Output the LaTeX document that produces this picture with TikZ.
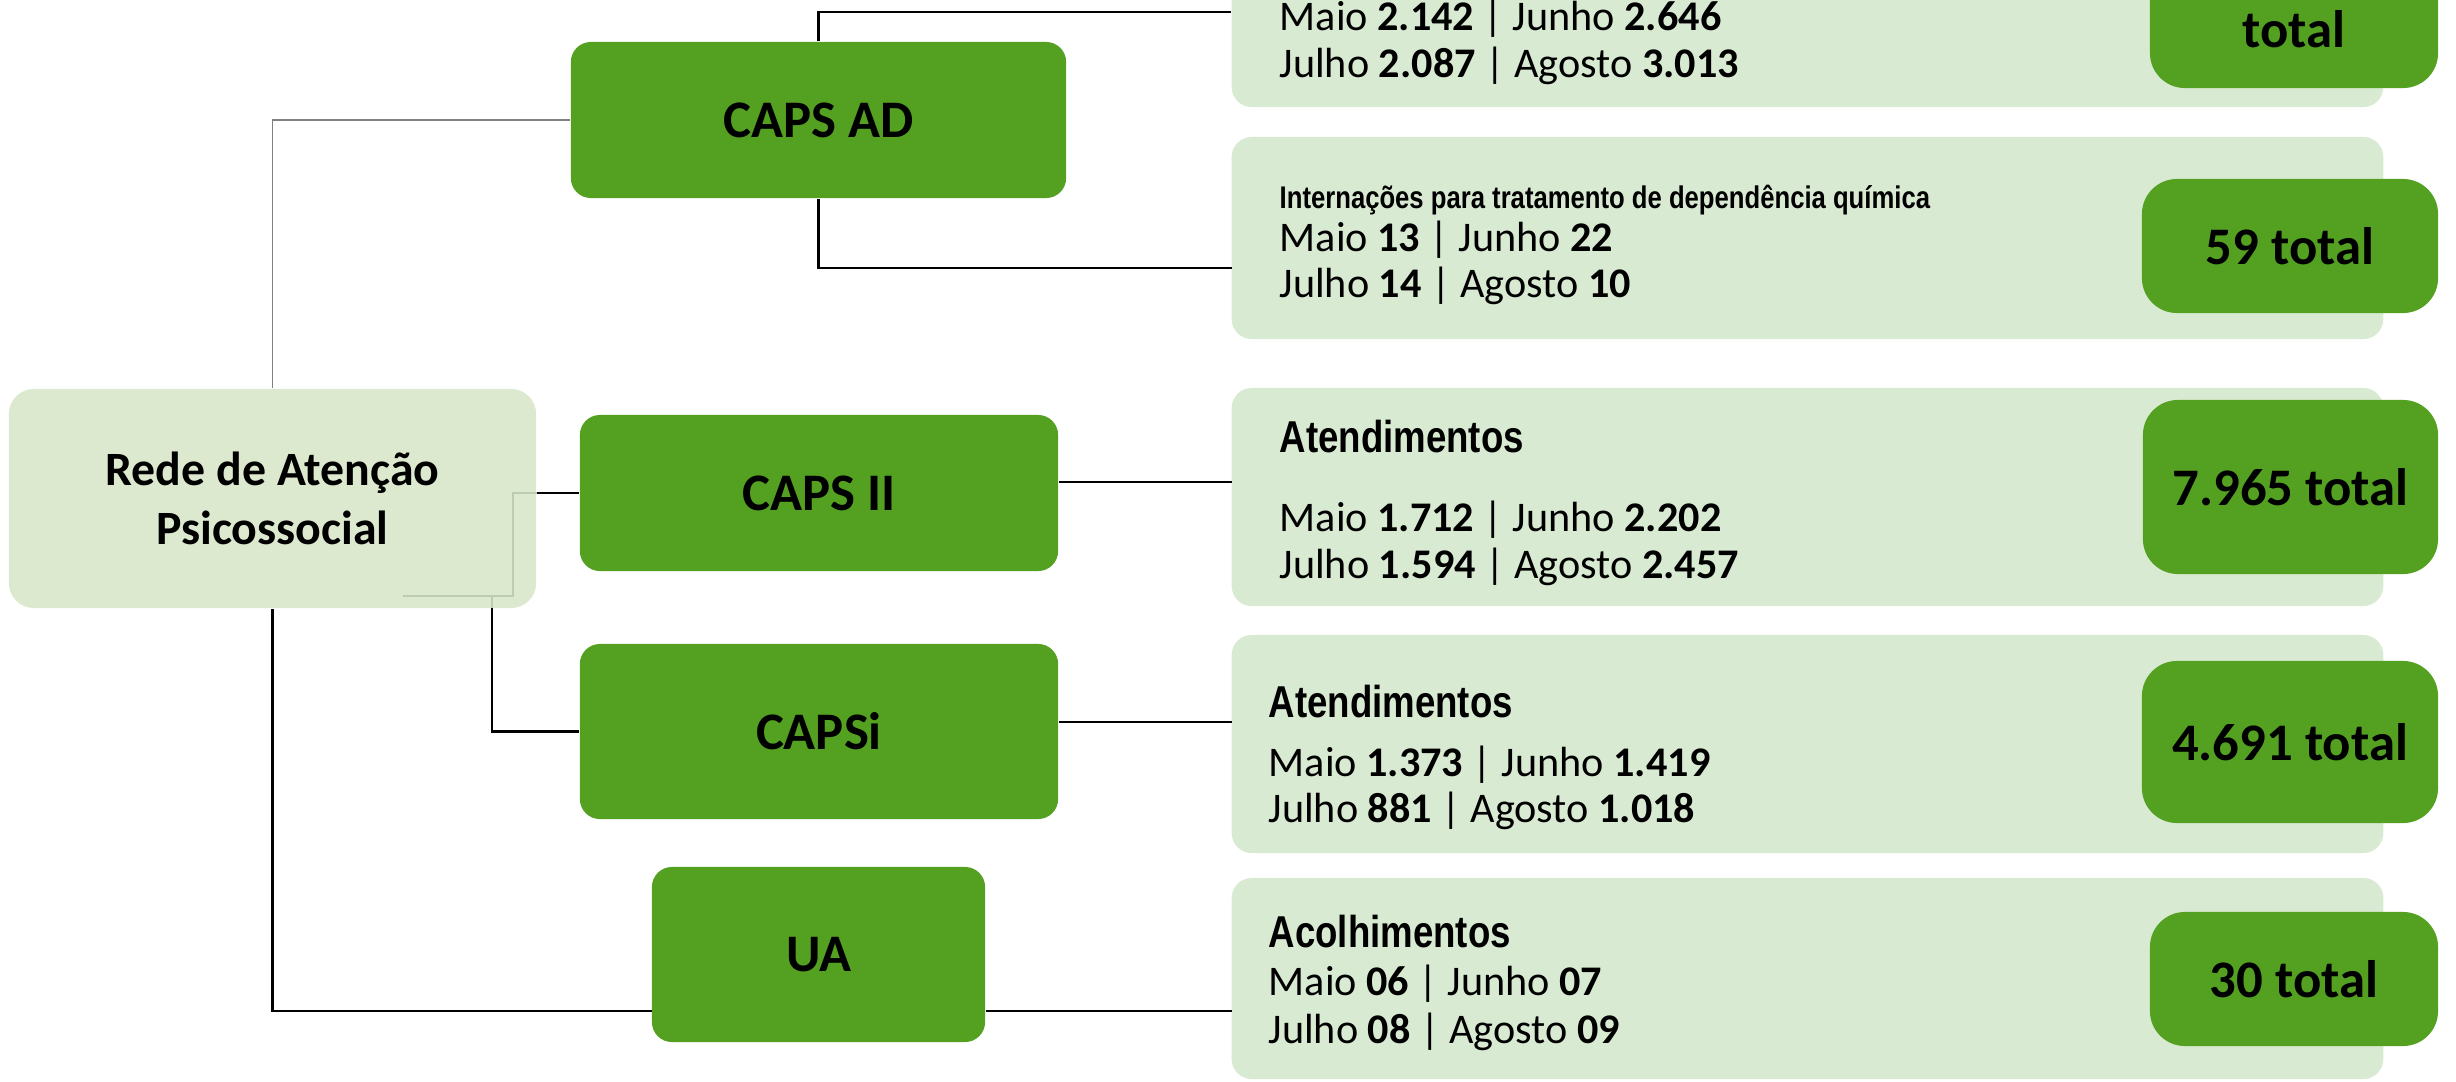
\documentclass[tikz,border=0pt]{standalone}
\usepackage{fontspec}
\setmainfont{Carlito}
\newfontfamily\narrowfont{Liberation Sans}[FakeStretch=0.82]
\begin{document}
\begin{tikzpicture}[x=0.01cm,y=-0.01cm,
  unitbox/.style={shape=rectangle,rounded corners=0.2cm,fill=raps_green,inner sep=0pt,font=\fontsize{15}{18}\selectfont\bfseries},
  databox/.style={shape=rectangle,rounded corners=0.2cm,fill=raps_pale,minimum width=11.51cm,inner sep=0pt},
  totalbox/.style={shape=rectangle,rounded corners=0.35cm,fill=raps_green,minimum width=2.96cm,inner sep=0pt,font=\fontsize{15}{18}\selectfont\bfseries},
  month/.style={anchor=base west,inner sep=0pt,font=\fontsize{12}{14}\selectfont},
  heading/.style={anchor=base west,inner sep=0pt,font=\fontsize{12.7}{15}\narrowfont\bfseries},
  link/.style={line width=0.6pt,color=black}]
\definecolor{raps_green}{RGB}{84,160,33}
\definecolor{raps_pale}{RGB}{217,234,211}
\definecolor{raps_rede}{RGB}{221,233,207}
\definecolor{raps_faint}{RGB}{188,204,178}
\clip (0,0) rectangle (2456,1081);

\node[shape=rectangle,rounded corners=0.25cm,fill=raps_rede,minimum width=5.27cm,minimum height=2.19cm,align=center,font=\fontsize{13.6}{16.8}\selectfont\bfseries] (rede) at (272.5,498.5) {Rede de Atenção\\Psicossocial};

\node[unitbox,minimum width=4.95cm,minimum height=1.56cm] (capsad) at (818.5,120) {CAPS AD};
\node[unitbox,minimum width=4.78cm,minimum height=1.56cm] (capsii) at (819,493) {CAPS II};
\node[unitbox,minimum width=4.78cm,minimum height=1.75cm] (capsi) at (819,731.5) {CAPSi};
\node[unitbox,minimum width=3.33cm,minimum height=1.75cm] (ua) at (818.5,954.5) {UA};

\node[databox,minimum height=1.90cm] (dados1) at (1807.5,12) {};
\node[databox,minimum height=2.02cm] (dados2) at (1807.5,238) {};
\node[databox,minimum height=2.18cm] (dados3) at (1807.5,497) {};
\node[databox,minimum height=2.18cm] (dados4) at (1807.5,744) {};
\node[databox,minimum height=2.01cm] (dados5) at (1807.5,978.5) {};

\coordinate (d2in) at (1232,268);
\coordinate (d3in) at (1232,482);
\coordinate (capsiin) at (492,608);
\coordinate (d4in) at (1232,722);
\coordinate (uain) at (652,1011);
\coordinate (d5in) at (1232,1011);

\draw[line width=0.5pt,color=gray] (rede.north) |- (capsad.west);
\draw[link] (capsad.north) |- (dados1.west);
\draw[link] (capsad.south) |- (d2in);
\draw[link] (rede.east |- capsii.west) -- (capsii.west);
\draw[link] (capsii.east |- d3in) -- (d3in);
\draw[line width=0.6pt,color=raps_faint] (rede.east |- 0,493) -- (513,493) -- (513,596) -- (403,596);
\draw[line width=0.6pt,color=raps_faint] (492,596) -- (capsiin);
\draw[link] (capsiin) |- (capsi.west);
\draw[link] (capsi.east |- d4in) -- (d4in);
\draw[link] (rede.south) |- (uain);
\draw[link] (ua.east |- d5in) -- (d5in);

\node[month] (maio1) at (1279,30) {Maio \textbf{2.142} | Junho \textbf{2.646}};
\node[month] (julho1) at (1279,77) {Julho \textbf{2.087} | Agosto \textbf{3.013}};

\node[anchor=base west,inner sep=0pt,font=\fontsize{8.9}{10}\narrowfont\bfseries] (intern2) at (1279,208) {Internações para tratamento de dependência química};
\node[month] (maio2) at (1279,251) {Maio \textbf{13} | Junho \textbf{22}};
\node[month] (julho2) at (1279,297) {Julho \textbf{14} | Agosto \textbf{10}};

\node[heading] (atend3) at (1279,452) {Atendimentos};
\node[month] (maio3) at (1279,531) {Maio \textbf{1.712} | Junho \textbf{2.202}};
\node[month] (julho3) at (1279,578) {Julho \textbf{1.594} | Agosto \textbf{2.457}};

\node[heading] (atend4) at (1268,717) {Atendimentos};
\node[month] (maio4) at (1268,776) {Maio \textbf{1.373} | Junho \textbf{1.419}};
\node[month] (julho4) at (1268,822) {Julho \textbf{881} | Agosto \textbf{1.018}};

\node[heading] (acolh5) at (1268,947) {Acolhimentos};
\node[month] (maio5) at (1268,995) {Maio \textbf{06} | Junho \textbf{07}};
\node[month] (julho5) at (1268,1043) {Julho \textbf{08} | Agosto \textbf{09}};

\node[totalbox,minimum width=2.88cm,minimum height=1.70cm] (total1) at (2294,3) {};
\node[anchor=base,inner sep=0pt,font=\fontsize{15}{18}\selectfont\bfseries] (total1txt) at (2294,47) {total};
\node[totalbox,minimum height=1.34cm] (total2) at (2290,246) {59 total};
\node[totalbox,minimum width=2.95cm,minimum height=1.74cm] (total3) at (2290.5,487) {7.965 total};
\node[totalbox,minimum height=1.62cm] (total4) at (2290,742) {4.691 total};
\node[totalbox,minimum width=2.88cm,minimum height=1.34cm] (total5) at (2294,979) {30 total};
\end{tikzpicture}
\end{document}
